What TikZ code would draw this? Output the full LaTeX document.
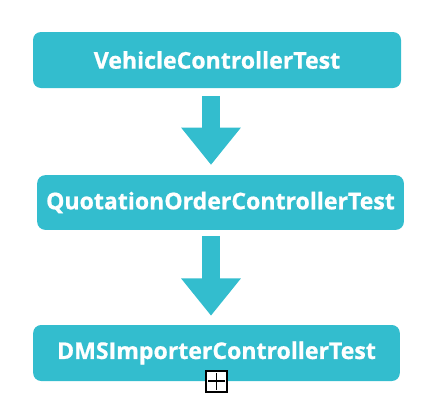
\documentclass[tikz,border=0pt]{standalone}
\usepackage{fontspec}
\setmainfont{Open Sans}[BoldFeatures={FakeBold=0.8}]
\usetikzlibrary{calc}
\usetikzlibrary{arrows.meta}
\definecolor{teal}{RGB}{51,189,206}
\tikzset{
  every picture/.style={
    x=0.75pt, y=-0.75pt
  },
  testbox/.style={
    fill=teal, rounded corners=6pt,
    text=white, font=\fontsize{17.3}{20}\selectfont\bfseries,
    minimum height=42pt, inner sep=0pt
  },
  fat arrow/.style={
    draw=teal, line width=14pt,
    -{Triangle[length=28pt, width=43pt]}
  }
}

\begin{document}
\begin{tikzpicture}
  \useasboundingbox (0,0) rectangle (446,418);
  \node [testbox, minimum width=276pt] (veh) at (217,60) {VehicleControllerTest};
  \node [testbox, minimum width=275pt, minimum height=41pt] (quo) at (220.5,202.5) {QuotationOrderControllerTest};
  \node [testbox, minimum width=275pt] (dms) at (216.5,353) {DMSImporterControllerTest};
  \draw [fat arrow] ($(veh.south)+(-6,8)$) -- ($(quo.north)+(-9.5,-10)$);
  \draw [fat arrow] ($(quo.south)+(-9.5,6)$) -- ($(dms.north)+(-5.5,-9)$);
  % expand marker
  \node [draw=black, line width=1.5pt, fill=white, minimum size=15.5pt, inner sep=0pt] (plus) at (dms.south) {};
  \draw [line width=1.4pt] ($(plus.west)+(3,0)$) -- ($(plus.east)+(-3,0)$);
  \draw [line width=1.4pt] ($(plus.north)+(0,3)$) -- ($(plus.south)+(0,-3)$);
\end{tikzpicture}
\end{document}
